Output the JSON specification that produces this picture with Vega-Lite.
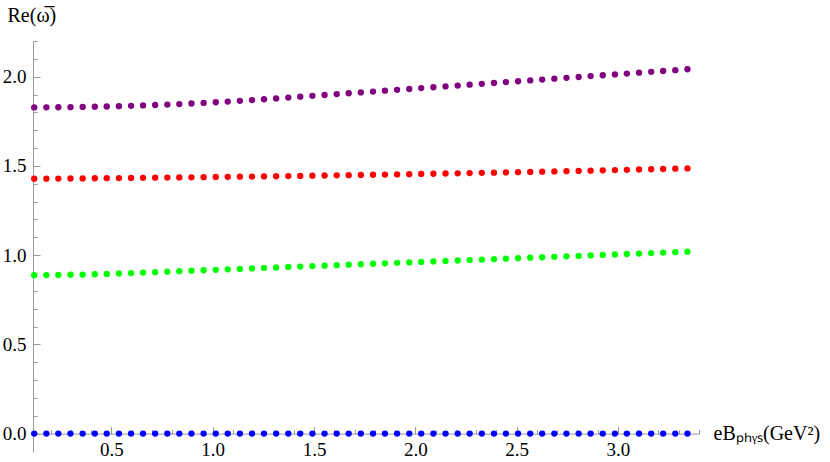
{
  "$schema": "https://vega.github.io/schema/vega-lite/v6.json",
  "width": 666,
  "height": 411,
  "autosize": "none",
  "padding": {"left": 33, "top": 41, "right": 131, "bottom": 10},
  "config": {
    "view": {"stroke": null},
    "axis": {
      "labelFont": "Liberation Serif",
      "labelFontSize": 19,
      "labelColor": "#000000",
      "titleFont": "Liberation Serif",
      "titleFontSize": 19,
      "titleFontWeight": "normal",
      "titleColor": "#000000",
      "domainColor": "#999999",
      "tickColor": "#999999",
      "grid": false
    }
  },
  "data": {
    "values": [
      {"x": 0.119, "p": 1.8280, "r": 1.4280, "g": 0.8880, "b": 0},
      {"x": 0.179, "p": 1.8282, "r": 1.4285, "g": 0.8883, "b": 0},
      {"x": 0.238, "p": 1.8287, "r": 1.4290, "g": 0.8890, "b": 0},
      {"x": 0.298, "p": 1.8294, "r": 1.4296, "g": 0.8900, "b": 0},
      {"x": 0.358, "p": 1.8304, "r": 1.4302, "g": 0.8913, "b": 0},
      {"x": 0.418, "p": 1.8316, "r": 1.4308, "g": 0.8929, "b": 0},
      {"x": 0.477, "p": 1.8330, "r": 1.4314, "g": 0.8948, "b": 0},
      {"x": 0.537, "p": 1.8347, "r": 1.4320, "g": 0.8971, "b": 0},
      {"x": 0.597, "p": 1.8366, "r": 1.4327, "g": 0.8997, "b": 0},
      {"x": 0.656, "p": 1.8388, "r": 1.4334, "g": 0.9023, "b": 0},
      {"x": 0.716, "p": 1.8412, "r": 1.4341, "g": 0.9049, "b": 0},
      {"x": 0.776, "p": 1.8438, "r": 1.4348, "g": 0.9075, "b": 0},
      {"x": 0.835, "p": 1.8467, "r": 1.4355, "g": 0.9101, "b": 0},
      {"x": 0.895, "p": 1.8498, "r": 1.4363, "g": 0.9127, "b": 0},
      {"x": 0.955, "p": 1.8532, "r": 1.4371, "g": 0.9153, "b": 0},
      {"x": 1.015, "p": 1.8568, "r": 1.4379, "g": 0.9179, "b": 0},
      {"x": 1.074, "p": 1.8606, "r": 1.4387, "g": 0.9205, "b": 0},
      {"x": 1.134, "p": 1.8647, "r": 1.4396, "g": 0.9231, "b": 0},
      {"x": 1.194, "p": 1.8690, "r": 1.4405, "g": 0.9257, "b": 0},
      {"x": 1.253, "p": 1.8736, "r": 1.4414, "g": 0.9283, "b": 0},
      {"x": 1.313, "p": 1.8784, "r": 1.4423, "g": 0.9309, "b": 0},
      {"x": 1.373, "p": 1.8832, "r": 1.4432, "g": 0.9335, "b": 0},
      {"x": 1.432, "p": 1.8880, "r": 1.4442, "g": 0.9361, "b": 0},
      {"x": 1.492, "p": 1.8928, "r": 1.4452, "g": 0.9387, "b": 0},
      {"x": 1.552, "p": 1.8976, "r": 1.4462, "g": 0.9413, "b": 0},
      {"x": 1.612, "p": 1.9024, "r": 1.4472, "g": 0.9439, "b": 0},
      {"x": 1.671, "p": 1.9072, "r": 1.4482, "g": 0.9465, "b": 0},
      {"x": 1.731, "p": 1.9120, "r": 1.4493, "g": 0.9491, "b": 0},
      {"x": 1.791, "p": 1.9168, "r": 1.4504, "g": 0.9517, "b": 0},
      {"x": 1.850, "p": 1.9216, "r": 1.4515, "g": 0.9543, "b": 0},
      {"x": 1.910, "p": 1.9264, "r": 1.4526, "g": 0.9569, "b": 0},
      {"x": 1.970, "p": 1.9312, "r": 1.4538, "g": 0.9595, "b": 0},
      {"x": 2.029, "p": 1.9360, "r": 1.4550, "g": 0.9621, "b": 0},
      {"x": 2.089, "p": 1.9408, "r": 1.4562, "g": 0.9647, "b": 0},
      {"x": 2.149, "p": 1.9456, "r": 1.4574, "g": 0.9673, "b": 0},
      {"x": 2.209, "p": 1.9504, "r": 1.4586, "g": 0.9699, "b": 0},
      {"x": 2.268, "p": 1.9552, "r": 1.4599, "g": 0.9725, "b": 0},
      {"x": 2.328, "p": 1.9600, "r": 1.4611, "g": 0.9751, "b": 0},
      {"x": 2.388, "p": 1.9648, "r": 1.4624, "g": 0.9777, "b": 0},
      {"x": 2.447, "p": 1.9696, "r": 1.4638, "g": 0.9803, "b": 0},
      {"x": 2.507, "p": 1.9744, "r": 1.4651, "g": 0.9829, "b": 0},
      {"x": 2.567, "p": 1.9792, "r": 1.4665, "g": 0.9855, "b": 0},
      {"x": 2.626, "p": 1.9840, "r": 1.4679, "g": 0.9881, "b": 0},
      {"x": 2.686, "p": 1.9888, "r": 1.4693, "g": 0.9907, "b": 0},
      {"x": 2.746, "p": 1.9936, "r": 1.4707, "g": 0.9933, "b": 0},
      {"x": 2.806, "p": 1.9984, "r": 1.4722, "g": 0.9959, "b": 0},
      {"x": 2.865, "p": 2.0032, "r": 1.4736, "g": 0.9985, "b": 0},
      {"x": 2.925, "p": 2.0080, "r": 1.4751, "g": 1.0011, "b": 0},
      {"x": 2.985, "p": 2.0128, "r": 1.4767, "g": 1.0037, "b": 0},
      {"x": 3.044, "p": 2.0176, "r": 1.4782, "g": 1.0063, "b": 0},
      {"x": 3.104, "p": 2.0224, "r": 1.4798, "g": 1.0089, "b": 0},
      {"x": 3.164, "p": 2.0272, "r": 1.4813, "g": 1.0115, "b": 0},
      {"x": 3.223, "p": 2.0320, "r": 1.4829, "g": 1.0141, "b": 0},
      {"x": 3.283, "p": 2.0368, "r": 1.4846, "g": 1.0167, "b": 0},
      {"x": 3.343, "p": 2.0416, "r": 1.4862, "g": 1.0193, "b": 0}
    ]
  },
  "transform": [{"fold": ["p", "r", "g", "b"], "as": ["series", "value"]}],
  "layer": [
    {
      "mark": {"type": "point", "opacity": 0},
      "encoding": {
        "x": {
          "field": "x", "type": "quantitative",
          "scale": {"domain": [0.113, 3.4], "nice": false, "zero": false},
          "axis": {
            "orient": "bottom", "offset": -18.4, "title": null, "labels": false, "domain": true,
            "tickSize": -4,
            "values": [0.2, 0.3, 0.4, 0.6, 0.7, 0.8, 0.9, 1.1, 1.2, 1.3, 1.4, 1.6, 1.7, 1.8, 1.9, 2.1, 2.2, 2.3, 2.4, 2.6, 2.7, 2.8, 2.9, 3.1, 3.2, 3.3, 3.4]
          }
        },
        "y": {
          "field": "value", "type": "quantitative",
          "scale": {"domain": [-0.103, 2.2], "nice": false, "zero": false},
          "axis": {
            "orient": "left", "title": null, "labels": false, "domain": true,
            "tickSize": -4,
            "values": [0.1, 0.2, 0.3, 0.4, 0.6, 0.7, 0.8, 0.9, 1.1, 1.2, 1.3, 1.4, 1.6, 1.7, 1.8, 1.9, 2.1, 2.2]
          }
        }
      }
    },
    {
      "mark": {"type": "point", "opacity": 0},
      "encoding": {
        "x": {
          "field": "x", "type": "quantitative",
          "axis": {
            "orient": "bottom", "offset": -18.4, "title": null, "labels": false, "domain": false,
            "tickSize": -7,
            "values": [0.5, 1.0, 1.5, 2.0, 2.5, 3.0]
          }
        },
        "y": {
          "field": "value", "type": "quantitative",
          "axis": {
            "orient": "left", "title": null, "labels": false, "domain": false,
            "tickSize": -7,
            "values": [0, 0.5, 1.0, 1.5, 2.0]
          }
        }
      }
    },
    {
      "mark": {"type": "circle", "size": 40, "opacity": 1},
      "encoding": {
        "x": {
          "field": "x", "type": "quantitative",
          "axis": {
            "orient": "bottom", "offset": -18.4, "ticks": false, "domain": false,
            "labelPadding": 7, "labelFlush": false, "labelOverlap": false,
            "format": ".1f",
            "values": [0.5, 1.0, 1.5, 2.0, 2.5, 3.0],
            "title": "eBₚₕᵧₛ(GeV²)",
            "titleFontSize": 20,
            "titleAngle": 0, "titleAlign": "left", "titleBaseline": "alphabetic",
            "titleX": 680, "titleY": 6
          }
        },
        "y": {
          "field": "value", "type": "quantitative",
          "axis": {
            "orient": "left", "ticks": false, "domain": false,
            "labelPadding": 7, "labelFlush": false, "labelOverlap": false,
            "format": ".1f",
            "values": [0, 0.5, 1.0, 1.5, 2.0],
            "title": "Re(ω̅)",
            "titleFontSize": 20,
            "titleAngle": 0, "titleAlign": "left", "titleBaseline": "alphabetic",
            "titleX": -26, "titleY": -19.5
          }
        },
        "color": {
          "field": "series", "type": "nominal",
          "scale": {"domain": ["p", "r", "g", "b"], "range": ["#800080", "#ff0000", "#00ff00", "#0000ff"]},
          "legend": null
        }
      }
    }
  ],
  "resolve": {"axis": {"x": "independent", "y": "independent"}}
}
